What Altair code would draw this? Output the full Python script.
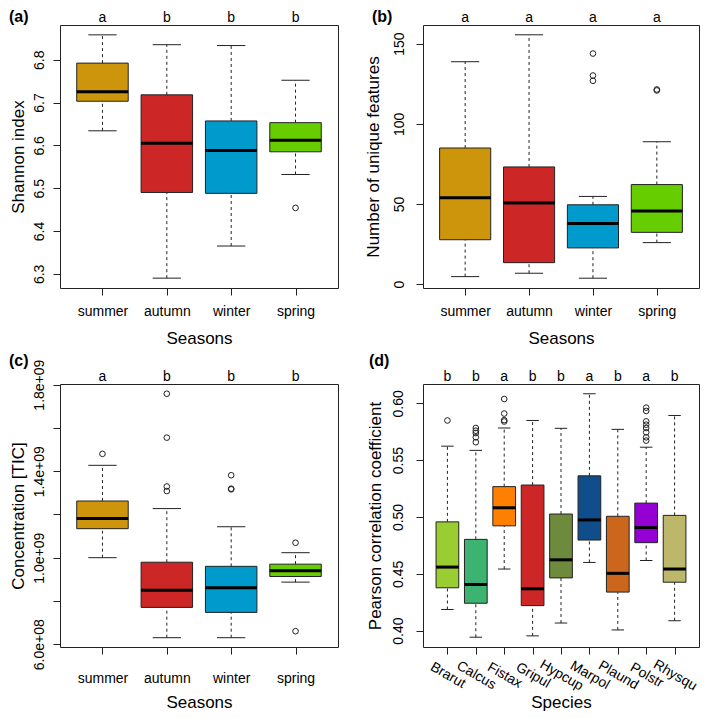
import json
import altair as alt
import pandas as pd

FONT = "Liberation Sans"

# ---------------- data ----------------
seasons = ["summer", "autumn", "winter", "spring"]
season_colors = ["#CD950C", "#CD2626", "#009ACD", "#66CD00"]

# (a) Shannon index
a_lower = [6.634, 6.290, 6.365, 6.532]
a_q1 = [6.703, 6.490, 6.488, 6.585]
a_med = [6.725, 6.605, 6.588, 6.612]
a_q3 = [6.792, 6.718, 6.657, 6.653]
a_upper = [6.858, 6.835, 6.833, 6.752]
a_out_cat = ["spring"]
a_out_val = [6.454]
a_letters = ["a", "b", "b", "b"]
a_ticks = [6.3, 6.4, 6.5, 6.6, 6.7, 6.8]
a_tick_labels = ["6.3", "6.4", "6.5", "6.6", "6.7", "6.8"]

# (b) Number of unique features
b_lower = [4.7, 6.8, 3.7, 25.9]
b_q1 = [27.7, 13.4, 22.6, 32.3]
b_med = [53.8, 50.6, 37.8, 45.6]
b_q3 = [84.9, 73.1, 49.5, 62.1]
b_upper = [138.7, 155.5, 54.7, 88.8]
b_out_cat = ["winter", "winter", "winter", "spring", "spring"]
b_out_val = [143.8, 130.1, 126.8, 121.4, 120.8]
b_letters = ["a", "a", "a", "a"]
b_ticks = [0, 50, 100, 150]
b_tick_labels = ["0", "50", "100", "150"]

# (c) Concentration [TIC]
c_lower = [1.000e9, 6.30e8, 6.30e8, 8.87e8]
c_q1 = [1.134e9, 7.70e8, 7.47e8, 9.13e8]
c_med = [1.181e9, 8.49e8, 8.61e8, 9.39e8]
c_q3 = [1.262e9, 9.79e8, 9.60e8, 9.70e8]
c_upper = [1.427e9, 1.227e9, 1.143e9, 1.023e9]
c_out_cat = ["summer", "autumn", "autumn", "autumn", "autumn",
             "winter", "winter", "winter", "spring", "spring"]
c_out_val = [1.48e9, 1.758e9, 1.555e9, 1.329e9, 1.308e9,
             1.381e9, 1.319e9, 1.316e9, 1.069e9, 6.60e8]
c_letters = ["a", "b", "b", "b"]
c_ticks = [6e8, 8e8, 1.0e9, 1.2e9, 1.4e9, 1.6e9, 1.8e9]
c_tick_labels = ["6.0e+08", "", "1.0e+09", "", "1.4e+09", "", "1.8e+09"]

# (d) Pearson correlation coefficient by species
species = ["Brarut", "Calcus", "Fistax", "Gripul", "Hypcup",
           "Marpol", "Plaund", "Polstr", "Rhysqu"]
species_colors = ["#9ACD32", "#3CB371", "#FF7F00", "#CD2626", "#6E8B3D",
                  "#104E8B", "#CD661D", "#9400D3", "#BDB76B"]
d_lower = [0.4186, 0.3942, 0.4542, 0.3954, 0.4067, 0.4600, 0.4006, 0.4617, 0.4087]
d_q1 = [0.4377, 0.4241, 0.4922, 0.4220, 0.4464, 0.4797, 0.4339, 0.4774, 0.4426]
d_med = [0.4559, 0.4406, 0.5081, 0.4368, 0.4623, 0.4974, 0.4504, 0.4907, 0.4542]
d_q3 = [0.4957, 0.4803, 0.5267, 0.5281, 0.5026, 0.5362, 0.5006, 0.5122, 0.5014]
d_upper = [0.5623, 0.5586, 0.5783, 0.5849, 0.5780, 0.6084, 0.5771, 0.5614, 0.5893]
d_out_cat = ["Brarut",
             "Calcus", "Calcus", "Calcus", "Calcus", "Calcus",
             "Fistax", "Fistax", "Fistax", "Fistax",
             "Polstr", "Polstr", "Polstr", "Polstr", "Polstr", "Polstr", "Polstr", "Polstr"]
d_out_val = [0.5849,
             0.5783, 0.5759, 0.5739, 0.5701, 0.5658,
             0.6038, 0.5910, 0.5852, 0.5840,
             0.5962, 0.5933, 0.5841, 0.5812, 0.5783, 0.5745, 0.5701, 0.5672]
d_letters = ["b", "b", "a", "b", "b", "a", "b", "a", "b"]
d_ticks = [0.40, 0.45, 0.50, 0.55, 0.60]
d_tick_labels = ["0.40", "0.45", "0.50", "0.55", "0.60"]

LINE = "#222222"


def make_panel(cats, colors, lower, q1, med, q3, upper, out_cat, out_val, letters,
               tag, tag_x, tag_y, ydomain, yticks, ylabels, ytitle, xtitle,
               width, height, ylabel_pad, ytitle_pad, xaxis_extra):
    n = len(cats)
    ext = 0.04 * n
    xdom = [0.5 - ext, n + 0.5 + ext]
    df = pd.DataFrame({"cat": cats, "idx": list(range(1, n + 1)), "color": colors,
                       "lower": lower, "q1": q1, "med": med, "q3": q3,
                       "upper": upper, "letter": letters})
    odf = pd.DataFrame({"cat": out_cat,
                        "idx": [cats.index(c) + 1 for c in out_cat],
                        "val": out_val})
    tdf = pd.DataFrame({"tag": [tag]})

    xaxis_kw = dict(values=list(range(1, n + 1)),
                    labelExpr=f"{json.dumps(cats)}[datum.value - 1]",
                    title=xtitle, tickSize=7, labelFlush=False, labelOverlap=False,
                    minExtent=30, maxExtent=30, titleBaseline="alphabetic")
    xaxis_kw.update(xaxis_extra)
    xaxis = alt.Axis(**xaxis_kw)
    yaxis = alt.Axis(values=yticks,
                     labelExpr=f"{json.dumps(ylabels)}[indexof({json.dumps(yticks)}, datum.value)]",
                     title=ytitle, tickSize=7, labelAngle=270, labelAlign="center",
                     labelBaseline="bottom", labelPadding=ylabel_pad,
                     labelFlush=False, labelOverlap=False,
                     minExtent=30, maxExtent=30, titleAngle=270,
                     titleBaseline="alphabetic", titlePadding=ytitle_pad)
    xscale = alt.Scale(domain=xdom, nice=False, zero=False)
    yscale = alt.Scale(domain=ydomain, nice=False, zero=False)

    def X(f):
        return alt.X(f"{f}:Q", scale=xscale, axis=xaxis)

    def Y(f):
        return alt.Y(f"{f}:Q", scale=yscale, axis=yaxis)

    base = alt.Chart(df).transform_calculate(
        b1="datum.idx - 0.4", b2="datum.idx + 0.4",
        s1="datum.idx - 0.22", s2="datum.idx + 0.22")

    whisk_lo = base.mark_rule(color=LINE, strokeDash=[3, 3], strokeWidth=1).encode(
        x=X("idx"), y=Y("lower"), y2="q1:Q")
    whisk_hi = base.mark_rule(color=LINE, strokeDash=[3, 3], strokeWidth=1).encode(
        x=X("idx"), y=Y("q3"), y2="upper:Q")
    staple_lo = base.mark_rule(color=LINE, strokeWidth=1).encode(
        x=X("s1"), x2="s2:Q", y=Y("lower"))
    staple_hi = base.mark_rule(color=LINE, strokeWidth=1).encode(
        x=X("s1"), x2="s2:Q", y=Y("upper"))
    boxes = base.mark_rect(stroke=LINE, strokeWidth=1).encode(
        x=X("b1"), x2="b2:Q", y=Y("q1"), y2="q3:Q",
        fill=alt.Fill("color:N", scale=None))
    medians = base.mark_rule(color="black", strokeWidth=3).encode(
        x=X("b1"), x2="b2:Q", y=Y("med"))
    outliers = alt.Chart(odf).mark_point(shape="circle", filled=False, size=32,
                                         color=LINE, strokeWidth=1, opacity=1).encode(
        x=X("idx"), y=Y("val"))
    lets = base.mark_text(fontSize=14, font=FONT, baseline="alphabetic",
                          color="black").encode(
        x=X("idx"), y=alt.value(-3), text="letter:N")
    tags = alt.Chart(tdf).mark_text(fontSize=16, font=FONT, fontWeight="bold",
                                    align="left", baseline="alphabetic",
                                    color="black").encode(
        x=alt.value(tag_x), y=alt.value(tag_y), text="tag:N")

    return alt.layer(whisk_lo, whisk_hi, staple_lo, staple_hi, boxes, medians,
                     outliers, lets, tags).properties(width=width, height=height)


top_x = dict(labelBaseline="alphabetic", labelPadding=20, titlePadding=25)
c_x = dict(labelBaseline="alphabetic", labelPadding=28, titlePadding=30)
d_x = dict(labelAngle=30, labelAlign="center", labelBaseline="middle",
           labelPadding=21, labelFontSize=14, titlePadding=30)

WL, WR = 278, 276
HT, HB = 263, 263

pa = make_panel(seasons, season_colors, a_lower, a_q1, a_med, a_q3, a_upper,
                a_out_cat, a_out_val, a_letters, "(a)", -51, -3,
                [6.267, 6.881], a_ticks, a_tick_labels, "Shannon index", "Seasons",
                WL, HT, 7, 7, top_x)
pb = make_panel(seasons, season_colors, b_lower, b_q1, b_med, b_q3, b_upper,
                b_out_cat, b_out_val, b_letters, "(b)", -51, -3,
                [-2.4, 161.6], b_ticks, b_tick_labels, "Number of unique features",
                "Seasons", WR, HT, 10, 15, top_x)
pc = make_panel(seasons, season_colors, c_lower, c_q1, c_med, c_q3, c_upper,
                c_out_cat, c_out_val, c_letters, "(c)", -51, -18,
                [5.87e8, 1.803e9], c_ticks, c_tick_labels, "Concentration [TIC]",
                "Seasons", WL, HB, 7, 7, c_x)
pd_ = make_panel(species, species_colors, d_lower, d_q1, d_med, d_q3, d_upper,
                 d_out_cat, d_out_val, d_letters, "(d)", -54, -18,
                 [0.3856, 0.617], d_ticks, d_tick_labels,
                 "Pearson correlation coefficient", "Species", WR, HB, 11, 13, d_x)

chart = alt.concat(
    pa, pb, pc, pd_, columns=2, spacing={"row": 96, "column": 85}, bounds="flush"
).resolve_scale(
    x="independent", y="independent"
).properties(
    padding=0, background="white"
).configure_view(
    stroke=LINE, strokeWidth=1
).configure_axis(
    domain=False, grid=False, tickColor=LINE, tickWidth=1,
    labelFont=FONT, labelFontSize=14, labelColor="black",
    titleFont=FONT, titleFontSize=17, titleFontWeight="normal", titleColor="black"
)

chart.save("out.html", embed_options={"renderer": "svg", "actions": False})
